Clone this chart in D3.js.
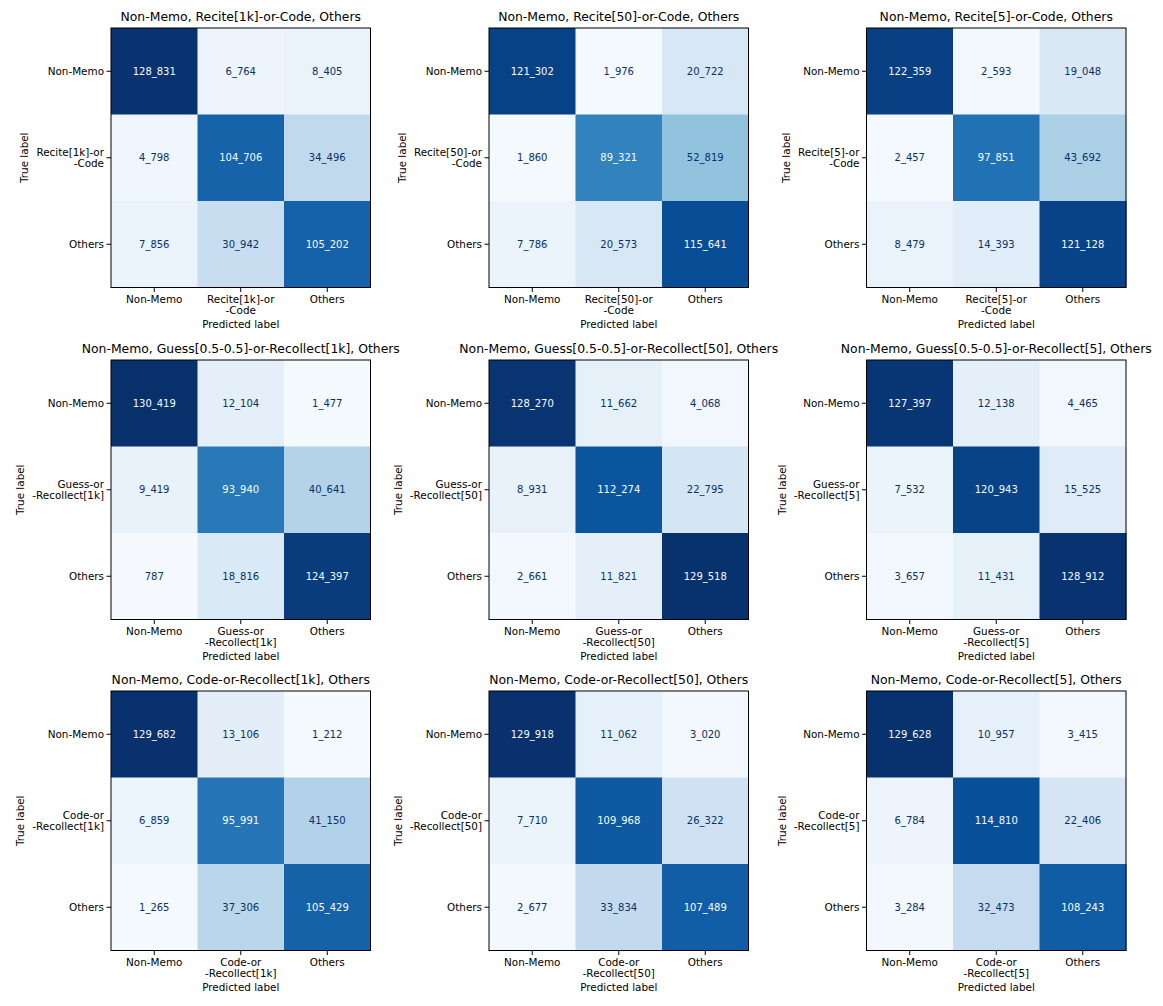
<!DOCTYPE html>
<html>
<head>
<meta charset="utf-8">
<script src="https://cdn.jsdelivr.net/npm/d3@7"></script>
<style>
  body { margin: 0; background: #fff; }
  svg text { font-family: "DejaVu Sans", sans-serif; }
</style>
</head>
<body>
<svg id="chart" width="1163" height="1006"></svg>
<script>
// titles per panel, left to right, top to bottom
const titles = [
  'Non-Memo, Recite[1k]-or-Code, Others',
  'Non-Memo, Recite[50]-or-Code, Others',
  'Non-Memo, Recite[5]-or-Code, Others',
  'Non-Memo, Guess[0.5-0.5]-or-Recollect[1k], Others',
  'Non-Memo, Guess[0.5-0.5]-or-Recollect[50], Others',
  'Non-Memo, Guess[0.5-0.5]-or-Recollect[5], Others',
  'Non-Memo, Code-or-Recollect[1k], Others',
  'Non-Memo, Code-or-Recollect[50], Others',
  'Non-Memo, Code-or-Recollect[5], Others'
]

// middle class label (two lines)
const midLabels = [
  ['Recite[1k]-or', '-Code'],
  ['Recite[50]-or', '-Code'],
  ['Recite[5]-or', '-Code'],
  ['Guess-or', '-Recollect[1k]'],
  ['Guess-or', '-Recollect[50]'],
  ['Guess-or', '-Recollect[5]'],
  ['Code-or', '-Recollect[1k]'],
  ['Code-or', '-Recollect[50]'],
  ['Code-or', '-Recollect[5]']
]

// confusion matrices, rows = true label, cols = predicted label
const cmRecite1k = [[128831, 6764, 8405], [4798, 104706, 34496], [7856, 30942, 105202]]
const cmRecite50 = [[121302, 1976, 20722], [1860, 89321, 52819], [7786, 20573, 115641]]
const cmRecite5 = [[122359, 2593, 19048], [2457, 97851, 43692], [8479, 14393, 121128]]
const cmGuess1k = [[130419, 12104, 1477], [9419, 93940, 40641], [787, 18816, 124397]]
const cmGuess50 = [[128270, 11662, 4068], [8931, 112274, 22795], [2661, 11821, 129518]]
const cmGuess5 = [[127397, 12138, 4465], [7532, 120943, 15525], [3657, 11431, 128912]]
const cmCode1k = [[129682, 13106, 1212], [6859, 95991, 41150], [1265, 37306, 105429]]
const cmCode50 = [[129918, 11062, 3020], [7710, 109968, 26322], [2677, 33834, 107489]]
const cmCode5 = [[129628, 10957, 3415], [6784, 114810, 22406], [3284, 32473, 108243]]

const matrices = [cmRecite1k, cmRecite50, cmRecite5, cmGuess1k, cmGuess50, cmGuess5, cmCode1k, cmCode50, cmCode5]

// matplotlib Blues
const bluesStops = ['#f7fbff', '#deebf7', '#c6dbef', '#9ecae1', '#6baed6', '#4292c6', '#2171b5', '#08519c', '#08306b']
const blues = d3.scaleLinear()
  .domain(d3.range(bluesStops.length).map(i => i / (bluesStops.length - 1)))
  .range(bluesStops)
  .interpolate(d3.interpolateRgb)

// shared colour range over all panels
const globalMax = d3.max(matrices, m => d3.max(m.flat()))
const norm = d3.scaleLinear().domain([0, globalMax]).range([0, 1]).clamp(true)

const colX = [111, 489, 866.5]
const rowY = [28, 360, 691]
const size = 259.5
const tickSize = 10.4

const fmt = v => d3.format(',')(v).replace(/,/g, '_')

const svg = d3.select('#chart')

matrices.forEach(function (cm, p) {
  const g = svg.append('g')
    .attr('transform', 'translate(' + colX[p % 3] + ',' + rowY[Math.floor(p / 3)] + ')')

  const labels = [['Non-Memo'], midLabels[p], ['Others']]
  const idx = [0, 1, 2]

  const x = d3.scaleBand().domain(idx).range([0, size])
  const y = d3.scaleBand().domain(idx).range([0, size])

  const flat = cm.flat()
  const thresh = (d3.min(flat) + d3.max(flat)) / 2

  const cells = []
  cm.forEach((row, i) => row.forEach((v, j) => cells.push({i: i, j: j, v: v})))

  g.selectAll('rect.cell')
    .data(cells)
    .enter().append('rect')
    .attr('class', 'cell')
    .attr('x', d => x(d.j))
    .attr('y', d => y(d.i))
    .attr('width', x.bandwidth() + 0.5)
    .attr('height', y.bandwidth() + 0.5)
    .attr('fill', d => blues(norm(d.v)))

  g.selectAll('text.val')
    .data(cells)
    .enter().append('text')
    .attr('class', 'val')
    .attr('x', d => x(d.j) + x.bandwidth() / 2)
    .attr('y', d => y(d.i) + y.bandwidth() / 2)
    .attr('dy', '0.35em')
    .attr('text-anchor', 'middle')
    .attr('font-size', 10)
    .attr('fill', d => d.v < thresh ? bluesStops[8] : bluesStops[0])
    .text(d => fmt(d.v))

  g.append('rect')
    .attr('width', size)
    .attr('height', size)
    .attr('fill', 'none')
    .attr('stroke', '#000')
    .attr('stroke-width', 1)

  // x ticks
  const xt = g.append('g').attr('transform', 'translate(0,' + size + ')')
  idx.forEach(function (k) {
    const cx = x(k) + x.bandwidth() / 2
    xt.append('line').attr('x1', cx).attr('x2', cx).attr('y1', 0).attr('y2', 4.5)
      .attr('stroke', '#000').attr('stroke-width', 1)
    const t = xt.append('text')
      .attr('x', cx).attr('y', 15)
      .attr('text-anchor', 'middle').attr('font-size', tickSize).attr('fill', '#000')
    labels[k].forEach((s, n) => t.append('tspan').attr('x', cx).attr('dy', n === 0 ? 0 : 11.7).text(s))
  })
  g.append('text')
    .attr('x', size / 2).attr('y', size + 40)
    .attr('text-anchor', 'middle').attr('font-size', tickSize).attr('fill', '#000')
    .text('Predicted label')

  // y ticks
  const yt = g.append('g')
  idx.forEach(function (k) {
    const cy = y(k) + y.bandwidth() / 2
    yt.append('line').attr('x1', 0).attr('x2', -4.5).attr('y1', cy).attr('y2', cy)
      .attr('stroke', '#000').attr('stroke-width', 1)
    const lines = labels[k]
    const t = yt.append('text')
      .attr('x', -7).attr('y', cy - (lines.length - 1) * 11.7 / 2)
      .attr('text-anchor', 'end').attr('font-size', tickSize).attr('fill', '#000')
    lines.forEach((s, n) => t.append('tspan').attr('x', -7).attr('dy', n === 0 ? '0.35em' : 11.7).text(s))
  })
  const bb = yt.node().getBBox()
  g.append('text')
    .attr('transform', 'translate(' + (bb.x - 8) + ',' + size / 2 + ') rotate(-90)')
    .attr('text-anchor', 'middle').attr('font-size', tickSize).attr('fill', '#000')
    .text('True label')

  g.append('text')
    .attr('x', size / 2).attr('y', -7)
    .attr('text-anchor', 'middle').attr('font-size', 12.4).attr('fill', '#000')
    .text(titles[p])
})
</script>
</body>
</html>
